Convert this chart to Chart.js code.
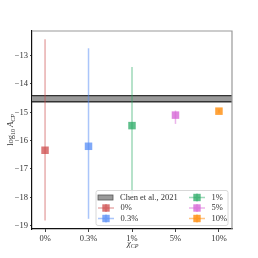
<!DOCTYPE html>
<html>
<head>
<meta charset="utf-8">
<script src="https://cdn.jsdelivr.net/npm/chart.js@4"></script>
<style>
  body { margin: 0; background: #fff; }
  #wrap { width: 258px; height: 258px; position: relative; }
</style>
</head>
<body>
<div id="wrap"><canvas id="chart"></canvas></div>
<script>
// data
var categories = ["0%", "0.3%", "1%", "5%", "10%"];
var values = [-16.34, -16.2, -15.47, -15.1, -14.96];
var errHigh = [-12.42, -12.74, -13.4, -14.94, -14.9];
var errLow = [-18.82, -18.76, -17.9, -15.41, -15.02];
var yTicks = [-19, -18, -17, -16, -15, -14, -13];
var chenBand = [-14.63, -14.41];
var chenLabel = "Chen et al., 2021";

var markerColors = ["rgba(205,75,75,0.75)", "rgba(85,140,245,0.75)", "rgba(40,170,100,0.75)", "rgba(215,105,215,0.8)", "rgba(255,140,10,0.8)"];
var barColors = ["rgba(205,75,75,0.45)", "rgba(85,140,245,0.5)", "rgba(40,170,100,0.45)", "rgba(215,105,215,0.5)", "rgba(255,140,10,0.5)"];

var serif = "'Liberation Serif', 'DejaVu Serif', serif";

var datasets = categories.map(function(c, i) {
    return {
        label: c,
        data: [{x: i, y: values[i]}],
        pointStyle: 'rect',
        pointRadius: 5.3,
        pointHoverRadius: 5.3,
        backgroundColor: markerColors[i],
        borderWidth: 0
    };
});

var extras = {
    id: 'extras',
    beforeDatasetsDraw: function(chart) {
        var ctx = chart.ctx;
        var xs = chart.scales.x, ys = chart.scales.y;
        var a = chart.chartArea;
        // Chen et al. band
        var y1 = ys.getPixelForValue(chenBand[1]);
        var y0 = ys.getPixelForValue(chenBand[0]);
        ctx.save();
        ctx.fillStyle = "#9a9a9a";
        ctx.fillRect(a.left, y1, a.right - a.left, y0 - y1);
        ctx.strokeStyle = "#333";
        ctx.lineWidth = 1.4;
        ctx.beginPath();
        ctx.moveTo(a.left, y1); ctx.lineTo(a.right, y1);
        ctx.moveTo(a.left, y0); ctx.lineTo(a.right, y0);
        ctx.stroke();
        // error bars
        ctx.lineWidth = 1.5;
        for (var i = 0; i < categories.length; i++) {
            var px = xs.getPixelForValue(i);
            ctx.strokeStyle = barColors[i];
            ctx.beginPath();
            ctx.moveTo(px, ys.getPixelForValue(errLow[i]));
            ctx.lineTo(px, ys.getPixelForValue(errHigh[i]));
            ctx.stroke();
        }
        ctx.restore();
    },
    afterDraw: function(chart) {
        var ctx = chart.ctx;
        var a = chart.chartArea;
        ctx.save();
        // top and right spines
        ctx.strokeStyle = "#999";
        ctx.lineWidth = 1.2;
        ctx.beginPath();
        ctx.moveTo(a.left, a.top); ctx.lineTo(a.right, a.top); ctx.lineTo(a.right, a.bottom);
        ctx.stroke();

        // legend
        var lx = 96, ly = 190.5, lw = 132, lh = 35;
        ctx.fillStyle = "rgba(255,255,255,0.85)";
        ctx.strokeStyle = "#d8d8d8";
        ctx.lineWidth = 1;
        ctx.beginPath();
        ctx.roundRect(lx, ly, lw, lh, 2);
        ctx.fill();
        ctx.stroke();

        ctx.font = "8.5px " + serif;
        ctx.textBaseline = "middle";
        ctx.textAlign = "left";
        var rows = [197.5, 208, 218.5];
        // band entry
        ctx.fillStyle = "#9a9a9a";
        ctx.fillRect(98, rows[0] - 2.5, 15, 5);
        ctx.strokeStyle = "#555";
        ctx.lineWidth = 0.8;
        ctx.strokeRect(98, rows[0] - 2.5, 15, 5);
        ctx.fillStyle = "#333";
        ctx.fillText(chenLabel, 120, rows[0]);
        var slots = [[98, rows[1]], [98, rows[2]], [189, rows[0]], [189, rows[1]], [189, rows[2]]];
        for (var i = 0; i < categories.length; i++) {
            var sx = slots[i][0], sy = slots[i][1];
            ctx.strokeStyle = barColors[i];
            ctx.lineWidth = 1.5;
            ctx.beginPath();
            ctx.moveTo(sx, sy); ctx.lineTo(sx + 16, sy);
            ctx.moveTo(sx + 8, sy - 4); ctx.lineTo(sx + 8, sy + 4);
            ctx.stroke();
            ctx.fillStyle = markerColors[i];
            ctx.fillRect(sx + 4.3, sy - 3.7, 7.4, 7.4);
            ctx.fillStyle = "#333";
            ctx.fillText(categories[i], sx + 22.5, sy);
        }

        // axis titles
        ctx.fillStyle = "#333";
        ctx.save();
        ctx.translate(11, 130);
        ctx.rotate(-Math.PI / 2);
        ctx.textAlign = "left";
        ctx.font = "8.5px " + serif;
        var t = "log";
        var w0 = ctx.measureText(t).width;
        ctx.font = "6px " + serif;
        var w1 = ctx.measureText("10").width;
        ctx.font = "italic 8.5px " + serif;
        var w2 = ctx.measureText("A").width;
        ctx.font = "italic 6px " + serif;
        var w3 = ctx.measureText("CP").width;
        var start = -(w0 + w1 + 2 + w2 + w3) / 2;
        ctx.font = "8.5px " + serif;
        ctx.fillText(t, start, 0);
        ctx.font = "6px " + serif;
        ctx.fillText("10", start + w0, 2.5);
        ctx.font = "italic 8.5px " + serif;
        ctx.fillText("A", start + w0 + w1 + 2, 0);
        ctx.font = "italic 6px " + serif;
        ctx.fillText("CP", start + w0 + w1 + 2 + w2, 2.5);
        ctx.restore();

        ctx.textAlign = "left";
        ctx.font = "italic 8.5px " + serif;
        var wc = ctx.measureText("χ").width;
        ctx.fillText("χ", 127, 244);
        ctx.font = "italic 6px " + serif;
        ctx.fillText("CP", 127 + wc, 246.5);
        ctx.restore();
    }
};

new Chart(document.getElementById("chart").getContext("2d"), {
    type: "scatter",
    data: { datasets: datasets },
    options: {
        responsive: true,
        maintainAspectRatio: false,
        animation: false,
        layout: { padding: { left: 0, top: 31, right: 26, bottom: 0 } },
        plugins: {
            legend: { display: false },
            tooltip: { enabled: false }
        },
        scales: {
            x: {
                type: "linear",
                min: -0.3,
                max: 4.3,
                afterBuildTicks: function(s) {
                    s.ticks = categories.map(function(c, i) { return {value: i}; });
                },
                afterFit: function(s) { s.height = 29; },
                border: { display: true, color: "#111", width: 1.2 },
                grid: { display: true, drawOnChartArea: false, drawTicks: true, tickLength: 3, color: "#111", lineWidth: 0.8 },
                ticks: {
                    padding: 2,
                    maxRotation: 0,
                    autoSkip: false,
                    color: "#333",
                    font: { size: 8.5, family: serif },
                    callback: function(v) { return categories[v]; }
                }
            },
            y: {
                min: -19.12,
                max: -12.13,
                afterBuildTicks: function(s) {
                    s.ticks = yTicks.map(function(v) { return {value: v}; });
                },
                afterFit: function(s) { s.width = 32; },
                border: { display: true, color: "#111", width: 1.2 },
                grid: { display: true, drawOnChartArea: false, drawTicks: true, tickLength: 2, color: "#111", lineWidth: 0.8 },
                ticks: {
                    padding: 2,
                    color: "#333",
                    font: { size: 8.5, family: serif },
                    callback: function(v) { return "\u2212" + Math.abs(v); }
                }
            }
        }
    },
    plugins: [extras]
});
</script>
</body>
</html>
